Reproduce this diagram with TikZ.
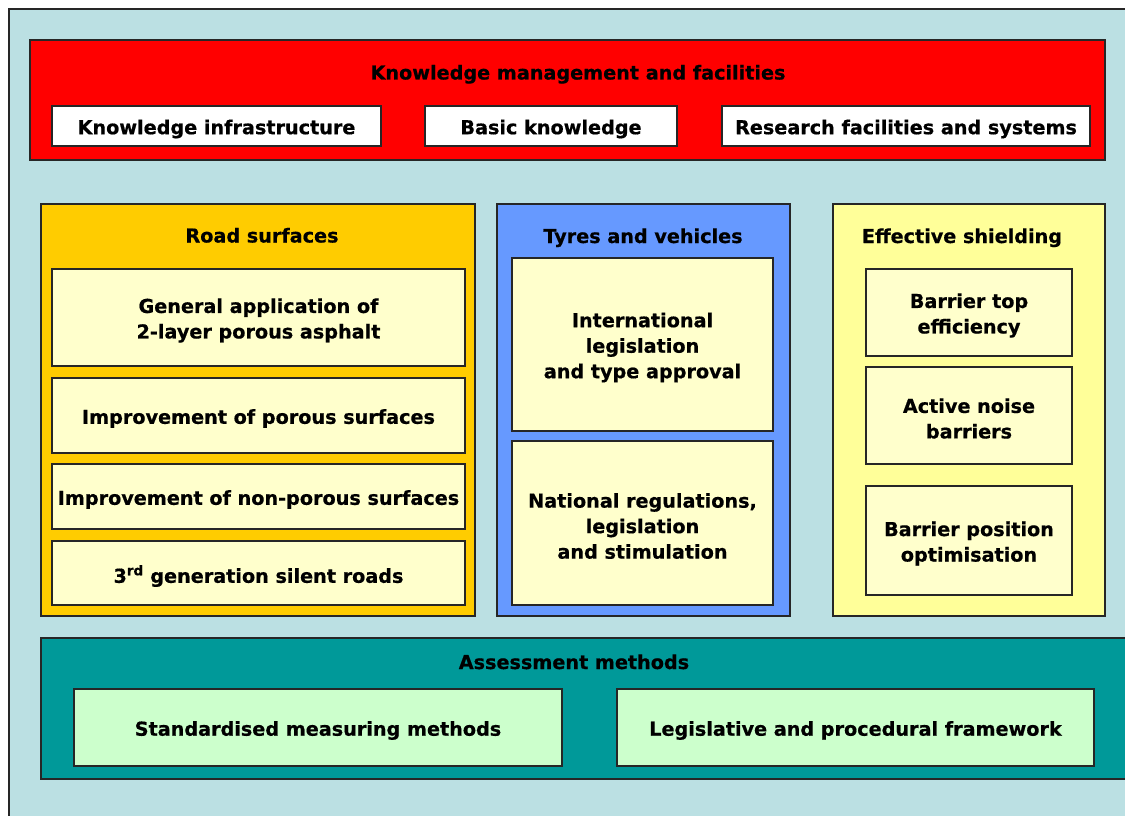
\documentclass[tikz,border=0pt]{standalone}
\usepackage{fontspec}
\setmainfont{DejaVu Sans}[BoldFeatures={FakeBold=0.6}]
\definecolor{panelbg}{HTML}{BBE0E3}
\definecolor{kred}{HTML}{FF0000}
\definecolor{roador}{HTML}{FFCC00}
\definecolor{tyreblue}{HTML}{6699FF}
\definecolor{shieldyel}{HTML}{FFFF99}
\definecolor{cream}{HTML}{FFFFCC}
\definecolor{assessteal}{HTML}{009999}
\definecolor{mint}{HTML}{CCFFCC}
\tikzset{
  frame/.style={draw=black!85, line width=1.2pt, rectangle, inner sep=0pt, outer sep=0pt},
  itemtext/.style={inner sep=0pt, align=center, yshift=-3pt, font=\fontsize{19.2}{25.5}\selectfont\bfseries},
  item/.style={frame},
  title/.style={inner sep=0pt, text height=14pt, text depth=4pt, font=\fontsize{19.2}{25.5}\selectfont\bfseries},
}
\begin{document}
\begin{tikzpicture}[x=1pt, y=-1pt]
\useasboundingbox (0,0) rectangle (1125,816);
\fill[white] (0,0) rectangle (1125,816);
% backdrop
\draw[frame, fill=panelbg] (9,9) rectangle (1145,835);

% knowledge management band
\node[frame, fill=kred, minimum width=1075pt, minimum height=120pt] (km) at (567.5,100) {};
\node[title] (kmt) at (578,74.5) {Knowledge management and facilities};
\node[item, fill=white, minimum width=329pt, minimum height=40pt,
  label={[itemtext]center:Knowledge infrastructure}] (ki) at (216.5,126) {};
\node[item, fill=white, minimum width=252pt, minimum height=40pt,
  label={[itemtext]center:Basic knowledge}] (bk) at (551,126) {};
\node[item, fill=white, minimum width=368pt, minimum height=40pt,
  label={[itemtext]center:Research facilities and systems}] (rf) at (906,126) {};

% road surfaces column
\node[frame, fill=roador, minimum width=434pt, minimum height=412pt] (rs) at (258,410) {};
\node[title] (rst) at (262,237.5) {Road surfaces};
\node[item, fill=cream, minimum width=413pt, minimum height=97pt,
  label={[itemtext]center:{General application of\\2-layer porous asphalt}}] (r1) at (258.5,317.5) {};
\node[item, fill=cream, minimum width=413pt, minimum height=75pt,
  label={[itemtext]center:Improvement of porous surfaces}] (r2) at (258.5,415.5) {};
\node[item, fill=cream, minimum width=413pt, minimum height=65pt,
  label={[itemtext]center:Improvement of non-porous surfaces}] (r3) at (258.5,496.5) {};
\node[item, fill=cream, minimum width=413pt, minimum height=64pt,
  label={[itemtext]center:{3\textsuperscript{rd} generation silent roads}}] (r4) at (258.5,573) {};

% tyres and vehicles column
\node[frame, fill=tyreblue, minimum width=293pt, minimum height=412pt] (tv) at (643.5,410) {};
\node[title] (tvt) at (643,238) {Tyres and vehicles};
\node[item, fill=cream, minimum width=261pt, minimum height=173pt,
  label={[itemtext]center:{International\\legislation\\and type approval}}] (t1) at (642.5,344.5) {};
\node[item, fill=cream, minimum width=261pt, minimum height=164pt,
  label={[itemtext]center:{National regulations,\\legislation\\and stimulation}}] (t2) at (642.5,523) {};

% effective shielding column
\node[frame, fill=shieldyel, minimum width=272pt, minimum height=412pt] (es) at (969,410) {};
\node[title] (est) at (962,238) {Effective shielding};
\node[item, fill=cream, minimum width=206pt, minimum height=87pt,
  label={[itemtext]center:{Barrier top\\efficiency}}] (e1) at (969,312.5) {};
\node[item, fill=cream, minimum width=206pt, minimum height=97pt,
  label={[itemtext]center:{Active noise\\barriers}}] (e2) at (969,415.5) {};
\node[item, fill=cream, minimum width=206pt, minimum height=109pt,
  label={[itemtext]center:{Barrier position\\optimisation}}] (e3) at (969,540.5) {};

% assessment methods band
\node[frame, fill=assessteal, minimum width=1104pt, minimum height=141pt] (am) at (593,708.5) {};
\node[title] (amt) at (574,664) {Assessment methods};
\node[item, fill=mint, minimum width=488pt, minimum height=77pt,
  label={[itemtext]center:Standardised measuring methods}] (a1) at (318,727.5) {};
\node[item, fill=mint, minimum width=477pt, minimum height=77pt,
  label={[itemtext]center:Legislative and procedural framework}] (a2) at (855.5,727.5) {};
\end{tikzpicture}
\end{document}
